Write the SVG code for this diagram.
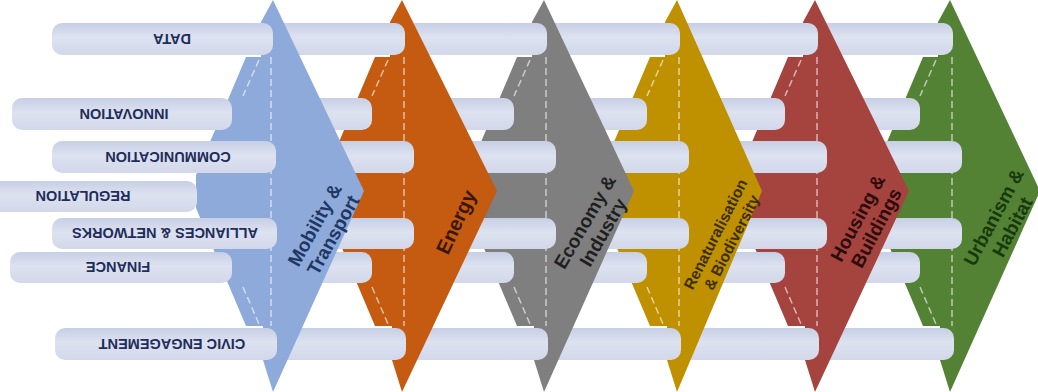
<svg xmlns="http://www.w3.org/2000/svg" width="1038" height="392" viewBox="0 0 1038 392">
<defs>
<linearGradient id="barg" x1="0" y1="0" x2="0" y2="1">
<stop offset="0" stop-color="#c7cfe5"/>
<stop offset="0.45" stop-color="#dde2f0"/>
<stop offset="1" stop-color="#d2d8ea"/>
</linearGradient>
<style>
.bar{fill:url(#barg);}
.dash{stroke:#ffffff;stroke-opacity:0.6;stroke-width:1.5;stroke-dasharray:7 4;fill:none;}
.blabel{font-family:"Liberation Sans",Arial,sans-serif;font-weight:bold;font-size:14.5px;fill:#1f2d5a;text-anchor:middle;}
.clabel{font-family:"Liberation Sans",Arial,sans-serif;font-weight:bold;font-size:19px;text-anchor:middle;}
</style>
</defs>
<rect width="1038" height="392" fill="#ffffff"/>

<!-- Urbanism & Habitat -->
<g id="node-urbanism">
<polygon points="950,0 1040,191 950,392 940,360 940,326 923,326 873,208 873,175 923,57 938,57 938,22" fill="#548235"/>
<line class="dash" x1="952" y1="57" x2="952" y2="326"/>
<line class="dash" x1="936" y1="60" x2="920" y2="96"/>
<line class="dash" x1="920" y1="287" x2="936" y2="324"/>
<text class="clabel" fill="#173a0d" transform="rotate(-62 1003 222)"><tspan x="1003" y="218">Urbanism &amp;</tspan><tspan x="1003" y="239">Habitat</tspan></text>
</g>
<g id="links-urbanism">
<rect class="bar" x="815" y="23" width="138" height="32" rx="10"/>
<rect class="bar" x="815" y="98" width="105" height="32" rx="10"/>
<rect class="bar" x="815" y="141" width="147" height="32" rx="10"/>
<rect class="bar" x="815" y="218" width="147" height="31" rx="10"/>
<rect class="bar" x="815" y="252" width="105" height="31" rx="10"/>
<rect class="bar" x="815" y="328" width="139" height="32" rx="10"/>
</g>

<!-- Housing & Buildings -->
<g id="node-housing">
<polygon points="815,0 909,191 815,392 805,360 805,326 788,326 738,208 738,175 788,57 803,57 803,22" fill="#a5433f"/>
<line class="dash" x1="817" y1="57" x2="817" y2="326"/>
<line class="dash" x1="801" y1="60" x2="785" y2="96"/>
<line class="dash" x1="785" y1="287" x2="801" y2="324"/>
<text class="clabel" fill="#2e0b0b" font-size="18" transform="rotate(-62 867 223)"><tspan x="867" y="219">Housing &amp;</tspan><tspan x="867" y="240">Buildings</tspan></text>
</g>
<g id="links-housing">
<rect class="bar" x="677" y="23" width="141" height="32" rx="10"/>
<rect class="bar" x="677" y="98" width="108" height="32" rx="10"/>
<rect class="bar" x="677" y="141" width="150" height="32" rx="10"/>
<rect class="bar" x="677" y="218" width="150" height="31" rx="10"/>
<rect class="bar" x="677" y="252" width="108" height="31" rx="10"/>
<rect class="bar" x="677" y="328" width="142" height="32" rx="10"/>
</g>

<!-- Renaturalisation & Biodiversity -->
<g id="node-renaturalisation">
<polygon points="677,0 762,191 677,392 667,360 667,326 650,326 600,208 600,175 650,57 665,57 665,22" fill="#bf9000"/>
<line class="dash" x1="679" y1="57" x2="679" y2="326"/>
<line class="dash" x1="663" y1="60" x2="647" y2="96"/>
<line class="dash" x1="647" y1="287" x2="663" y2="324"/>
<text class="clabel" fill="#3d2e00" style="font-size:15.5px" transform="rotate(-63 723 238)"><tspan x="723" y="235">Renaturalisation</tspan><tspan x="723" y="253">&amp; Biodiversity</tspan></text>
</g>
<g id="links-renaturalisation">
<rect class="bar" x="544" y="23" width="136" height="32" rx="10"/>
<rect class="bar" x="544" y="98" width="103" height="32" rx="10"/>
<rect class="bar" x="544" y="141" width="145" height="32" rx="10"/>
<rect class="bar" x="544" y="218" width="145" height="31" rx="10"/>
<rect class="bar" x="544" y="252" width="103" height="31" rx="10"/>
<rect class="bar" x="544" y="328" width="137" height="32" rx="10"/>
</g>

<!-- Economy & Industry -->
<g id="node-economy">
<polygon points="544,0 634,191 544,392 534,360 534,326 517,326 467,208 467,175 517,57 532,57 532,22" fill="#7f7f7f"/>
<line class="dash" x1="546" y1="57" x2="546" y2="326"/>
<line class="dash" x1="530" y1="60" x2="514" y2="96"/>
<line class="dash" x1="514" y1="287" x2="530" y2="324"/>
<text class="clabel" fill="#1f1f1f" transform="rotate(-60 594 227)"><tspan x="594" y="223">Economy &amp;</tspan><tspan x="594" y="244">Industry</tspan></text>
</g>
<g id="links-economy">
<rect class="bar" x="402" y="23" width="145" height="32" rx="10"/>
<rect class="bar" x="402" y="98" width="112" height="32" rx="10"/>
<rect class="bar" x="402" y="141" width="154" height="32" rx="10"/>
<rect class="bar" x="402" y="218" width="154" height="31" rx="10"/>
<rect class="bar" x="402" y="252" width="112" height="31" rx="10"/>
<rect class="bar" x="402" y="328" width="146" height="32" rx="10"/>
</g>

<!-- Energy -->
<g id="node-energy">
<polygon points="402,0 497,191 402,392 392,360 392,326 375,326 325,208 325,175 375,57 390,57 390,22" fill="#c55a11"/>
<line class="dash" x1="404" y1="57" x2="404" y2="326"/>
<line class="dash" x1="388" y1="60" x2="372" y2="96"/>
<line class="dash" x1="372" y1="287" x2="388" y2="324"/>
<text class="clabel" fill="#3b1700" style="font-size:20px" transform="rotate(-65 456 222)"><tspan x="456" y="229">Energy</tspan></text>
</g>
<g id="links-energy">
<rect class="bar" x="273" y="23" width="132" height="32" rx="10"/>
<rect class="bar" x="273" y="98" width="99" height="32" rx="10"/>
<rect class="bar" x="273" y="141" width="141" height="32" rx="10"/>
<rect class="bar" x="273" y="218" width="141" height="31" rx="10"/>
<rect class="bar" x="273" y="252" width="99" height="31" rx="10"/>
<rect class="bar" x="273" y="328" width="133" height="32" rx="10"/>
</g>

<!-- Mobility & Transport -->
<g id="node-mobility">
<polygon points="273,0 364,191 273,392 263,360 263,326 246,326 196,208 196,175 246,57 261,57 261,22" fill="#8eaadb"/>
<line class="dash" x1="271" y1="57" x2="271" y2="326"/>
<line class="dash" x1="259" y1="60" x2="243" y2="96"/>
<line class="dash" x1="243" y1="287" x2="259" y2="324"/>
<text class="clabel" fill="#1f3763" transform="rotate(-61 324 230)"><tspan x="324" y="226">Mobility &amp;</tspan><tspan x="324" y="247">Transport</tspan></text>
</g>

<!-- Thematic bars (left labels) -->
<g id="bar-data">
<rect class="bar" x="52" y="23" width="221" height="32" rx="10"/>
<text class="blabel" x="172" y="44.2" transform="rotate(180 172 39)">DATA</text>
</g>
<g id="bar-innovation">
<rect class="bar" x="12" y="98" width="220" height="32" rx="10"/>
<text class="blabel" x="124" y="119.2" transform="rotate(180 124 114)">INNOVATION</text>
</g>
<g id="bar-communication">
<rect class="bar" x="52" y="141" width="224" height="32" rx="10"/>
<text class="blabel" x="168" y="162.2" transform="rotate(180 168 157)">COMMUNICATION</text>
</g>
<g id="bar-regulation">
<rect class="bar" x="-12" y="181" width="209" height="31" rx="10"/>
<text class="blabel" x="83" y="201.7" transform="rotate(180 83 196.5)">REGULATION</text>
</g>
<g id="bar-alliances">
<rect class="bar" x="52" y="218" width="225" height="31" rx="10"/>
<text class="blabel" x="165" y="238.7" transform="rotate(180 165 233.5)">ALLIANCES &amp; NETWORKS</text>
</g>
<g id="bar-finance">
<rect class="bar" x="10" y="252" width="222" height="31" rx="10"/>
<text class="blabel" x="118" y="272.7" transform="rotate(180 118 267.5)">FINANCE</text>
</g>
<g id="bar-civic">
<rect class="bar" x="55" y="328" width="222" height="32" rx="10"/>
<text class="blabel" x="172" y="349.2" transform="rotate(180 172 344)">CIVIC ENGAGEMENT</text>
</g>
</svg>
